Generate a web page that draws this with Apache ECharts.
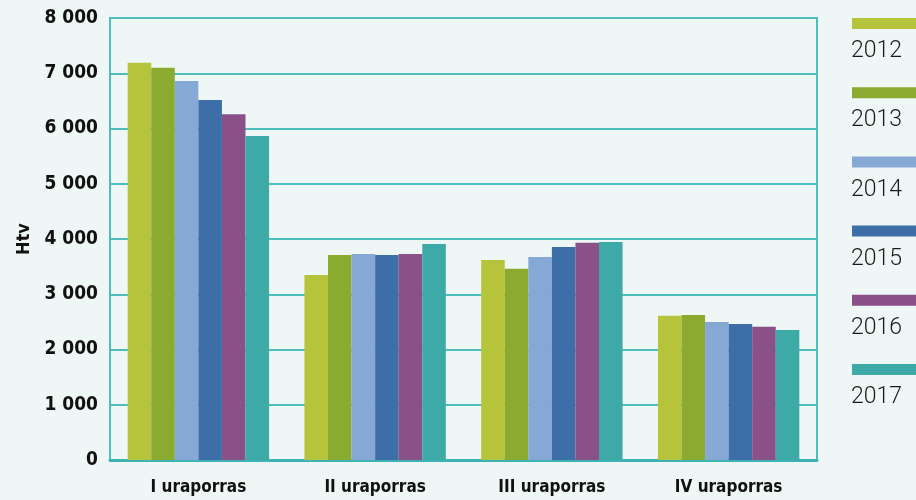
<!DOCTYPE html>
<html><head><meta charset="utf-8">
<script src="https://cdn.jsdelivr.net/npm/echarts@6/dist/echarts.min.js"></script>
<style>html,body{margin:0;padding:0;background:#eff7f6}#c{width:916px;height:500px}</style>
</head><body><div id="c"></div>
<script>
var categories = ['I uraporras', 'II uraporras', 'III uraporras', 'IV uraporras'];
var years = ['2012', '2013', '2014', '2015', '2016', '2017'];
var v2012 = [7190, 3350, 3620, 2610];
var v2013 = [7100, 3710, 3460, 2625];
var v2014 = [6860, 3730, 3675, 2500];
var v2015 = [6515, 3710, 3855, 2460];
var v2016 = [6260, 3730, 3930, 2410];
var v2017 = [5865, 3910, 3945, 2355];
var yTicks = [0, 1000, 2000, 3000, 4000, 5000, 6000, 7000, 8000];
var colors = ['#b6c43c', '#8aab2f', '#86a8d4', '#3d6ea8', '#8a5088', '#3daaa7'];
var values = [v2012, v2013, v2014, v2015, v2016, v2017];

var chart = echarts.init(document.getElementById('c'));
var teal = '#4dbdbd';
var cond = "'DejaVu Sans Condensed', 'Liberation Sans Narrow', Roboto, sans-serif";
var series = years.map(function (y, i) {
  return { name: y, type: 'bar', data: values[i], barGap: '0%', barCategoryGap: '20%',
    itemStyle: { color: colors[i] } };
});
var graphic = [];
years.forEach(function (y, i) {
  var top = 18 + i * 69.2;
  graphic.push({ type: 'rect', left: 852, top: top, shape: { width: 80, height: 11 }, style: { fill: colors[i] } });
  graphic.push({ type: 'text', left: 851, top: top + 22, style: { text: y, fill: '#1a1a1a', font: '300 23px Roboto' } });
});
chart.setOption({
  backgroundColor: '#eff7f6',
  animation: false,
  color: colors,
  grid: { left: 110, right: 99, top: 18, bottom: 40, show: true, borderColor: teal, borderWidth: 2, backgroundColor: 'transparent' },
  xAxis: { type: 'category', data: categories,
    axisLine: { lineStyle: { color: '#3fb3b3', width: 3 } }, axisTick: { show: false },
    axisLabel: { color: '#111', fontFamily: cond, fontWeight: 'bold', fontSize: 17, margin: 19 } },
  yAxis: { type: 'value', min: yTicks[0], max: yTicks[yTicks.length - 1], interval: yTicks[1] - yTicks[0],
    name: 'Htv', nameLocation: 'middle', nameGap: 76, nameRotate: 90,
    nameTextStyle: { color: '#111', fontFamily: cond, fontWeight: 'bold', fontSize: 18 },
    axisLine: { show: true, lineStyle: { color: teal, width: 2 } }, axisTick: { show: false },
    splitLine: { lineStyle: { color: teal, width: 2 } },
    axisLabel: { color: '#111', fontFamily: cond, fontWeight: 'bold', fontSize: 19, margin: 12,
      formatter: function (v) { return String(v).replace(/\B(?=(\d{3})+(?!\d))/g, ' '); } } },
  series: series,
  graphic: graphic
});
</script></body></html>
